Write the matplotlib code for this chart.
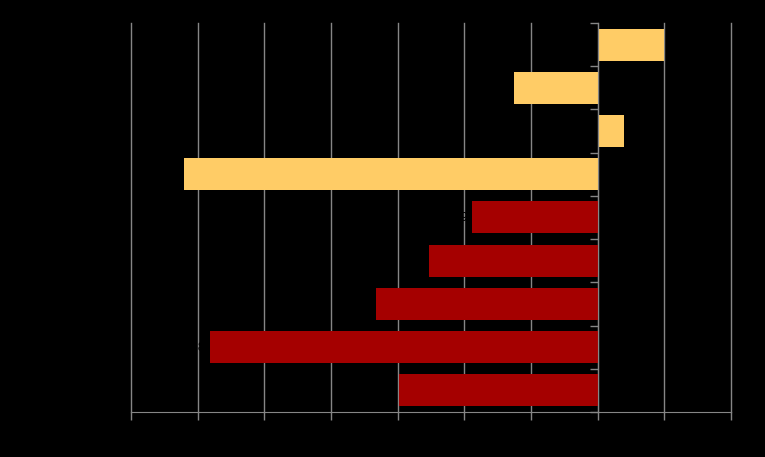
import matplotlib
matplotlib.use("Agg")
import matplotlib.pyplot as plt
import numpy as np

categories = ["A", "B", "C", "D", "E", "F", "G", "H", "I"]
values = [1.0, -1.25, 0.4, -6.2, -1.89, -2.53, -3.33, -5.82, -2.98]
colors = ["#FFCC66"] * 4 + ["#A50000"] * 5
xticks = [-7, -6, -5, -4, -3, -2, -1, 0, 1, 2]

fig = plt.figure(figsize=(7.65, 4.57), dpi=100, facecolor="black")
ax = fig.add_axes([0.1712, 0.0985, 0.7843, 0.8512])
ax.set_facecolor("black")

y = np.arange(len(categories))
ax.barh(y, values, height=0.74, color=colors, zorder=3)

ax.set_xlim(-7, 2)
ax.set_ylim(len(categories) - 0.5, -0.5)
ax.set_xticks(xticks)
ax.set_xticklabels([str(t) for t in xticks], color="black", fontsize=9)
ax.tick_params(axis="x", direction="out", length=6, color="#868686", width=1)

ax.grid(axis="x", color="#868686", linewidth=1, zorder=1)
for gl in ax.get_xgridlines():
    gl.set_clip_on(False)

ax.spines["top"].set_visible(False)
ax.spines["right"].set_visible(False)
ax.spines["bottom"].set_color("#868686")
ax.spines["left"].set_color("#868686")
ax.spines["left"].set_position(("data", 0))
ax.spines["left"].set_zorder(4)

ax.set_yticks(np.arange(len(categories) + 1) - 0.5)
ax.set_yticklabels([])
ax.tick_params(axis="y", direction="out", length=6, color="#868686", width=1)

for yi, v in zip(y, values):
    ax.text(v + (0.05 if v >= 0 else -0.05), yi, f"{v:.1f}", ha="left" if v >= 0 else "right",
            va="center", color="black", fontsize=9, zorder=5)

fig.savefig("out.png", dpi=100, facecolor="black")
